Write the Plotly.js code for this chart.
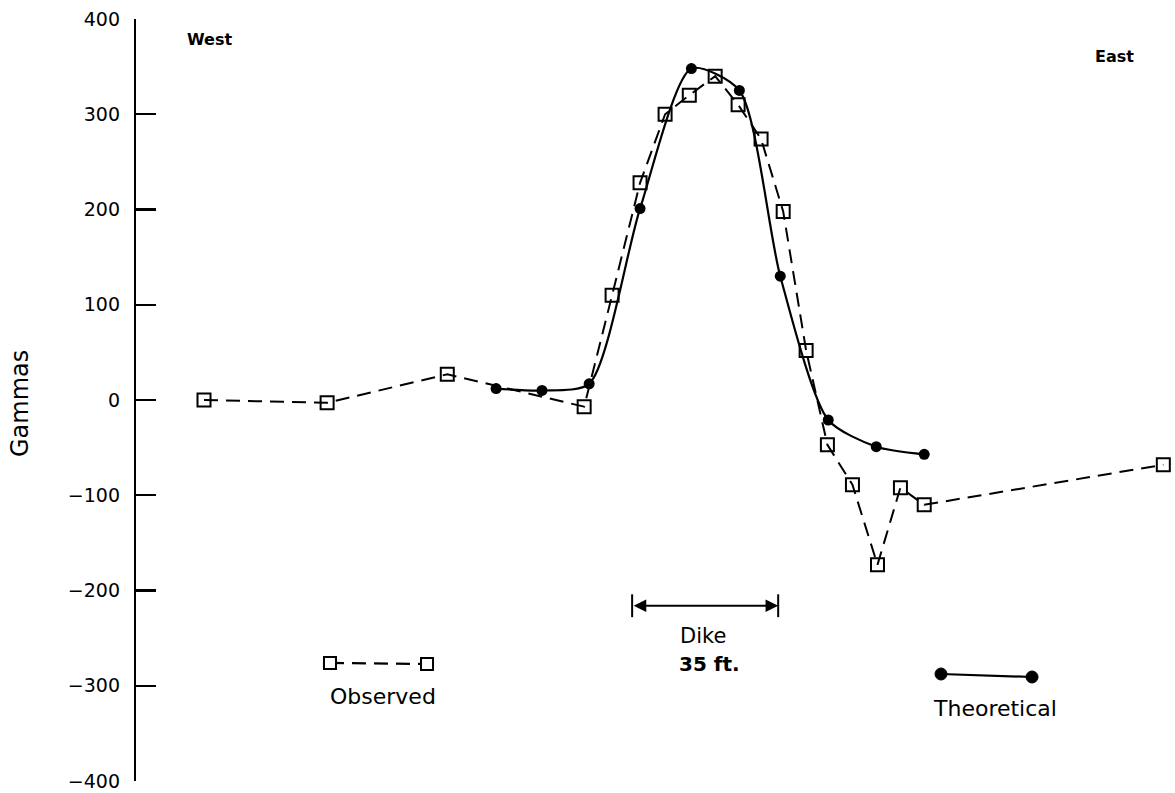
<!DOCTYPE html>
<html>
<head>
<meta charset="utf-8">
<script src="https://cdn.plot.ly/plotly-3.0.1.min.js"></script>
<style>
  html, body { margin: 0; padding: 0; background: #fff; }
  #chart { width: 1175px; height: 793px; }
</style>
</head>
<body>
<div id="chart"></div>
<script>
// Distance along profile (ft, from the axis) and anomaly (gammas)
const observedX = [16.3, 45.8, 74.6, 107.4, 114.1, 120.8, 126.8, 132.6, 138.8, 144.3, 149.8, 155.1, 160.6, 165.7, 171.7, 177.7, 183.2, 188.9, 246.2];
const observedY = [0, -3, 27, -7, 110, 228, 300, 320, 340, 310, 274, 198, 52, -47, -89, -173, -92, -110, -68];

const theoreticalX = [86.3, 97.3, 108.6, 120.8, 133.1, 144.6, 154.4, 165.9, 177.4, 188.9];
const theoreticalY = [12, 10, 17, 201, 348, 325, 130, -21, -49, -57];

const dikeStart = 118.9;
const dikeEnd = 153.9;
const dikeLevel = -216;

const yTicks = [400, 300, 200, 100, 0, -100, -200, -300, -400];

const FONT = "DejaVu Sans, Arial, sans-serif";

const traces = [
  {
    x: theoreticalX, y: theoreticalY, type: 'scatter', mode: 'lines+markers',
    name: 'Theoretical',
    line: { color: '#000', width: 2.2, shape: 'spline', smoothing: 0.7 },
    marker: { symbol: 'circle', size: 11, color: '#000' },
    hoverinfo: 'skip'
  },
  {
    x: observedX, y: observedY, type: 'scatter', mode: 'lines+markers',
    name: 'Observed',
    line: { color: '#000', width: 2, dash: '14px,8px' },
    marker: { symbol: 'square-open', size: 13, color: '#000', line: { width: 2, color: '#000' } },
    hoverinfo: 'skip'
  }
];

function pxSquare(xp, yp, s) {
  return { type: 'rect', xref: 'paper', yref: 'paper', xsizemode: 'pixel', ysizemode: 'pixel',
    xanchor: xp, yanchor: yp, x0: -s/2, x1: s/2, y0: -s/2, y1: s/2,
    line: { color: '#000', width: 2 }, fillcolor: '#fff' };
}
function pxDot(xp, yp, s) {
  return { type: 'circle', xref: 'paper', yref: 'paper', xsizemode: 'pixel', ysizemode: 'pixel',
    xanchor: xp, yanchor: yp, x0: -s/2, x1: s/2, y0: -s/2, y1: s/2,
    line: { color: '#000', width: 1 }, fillcolor: '#000' };
}

const shapes = [
  // Observed legend sample
  { type: 'line', xref: 'paper', yref: 'paper', x0: 0.1867, x1: 0.2801, y0: 0.1549, y1: 0.1535,
    line: { color: '#000', width: 2.2, dash: '14px,8px' } },
  pxSquare(0.1867, 0.1549, 12),
  pxSquare(0.2801, 0.1535, 12),
  // Theoretical legend sample
  { type: 'line', xref: 'paper', yref: 'paper', x0: 0.7748, x1: 0.8624, y0: 0.1404, y1: 0.1365,
    line: { color: '#000', width: 2.2 } },
  pxDot(0.7748, 0.1404, 12),
  pxDot(0.8624, 0.1365, 12),
  // Dike width bars
  { type: 'line', xref: 'x', yref: 'y', x0: dikeStart, x1: dikeStart, y0: dikeLevel - 12, y1: dikeLevel + 12,
    line: { color: '#000', width: 2 } },
  { type: 'line', xref: 'x', yref: 'y', x0: dikeEnd, x1: dikeEnd, y0: dikeLevel - 12, y1: dikeLevel + 12,
    line: { color: '#000', width: 2 } }
];

function label(x, y, text, size, extra) {
  return Object.assign({ xref: 'paper', yref: 'paper', x: x, y: y, text: text, showarrow: false,
    xanchor: 'center', yanchor: 'middle', font: { family: FONT, size: size, color: '#000' } }, extra || {});
}

const annotations = [
  { xref: 'x', yref: 'y', axref: 'x', ayref: 'y', x: dikeEnd, y: dikeLevel, ax: dikeStart, ay: dikeLevel,
    text: '', showarrow: true, arrowhead: 2, startarrowhead: 2, arrowside: 'end+start',
    arrowwidth: 1.8, arrowsize: 1.4, startarrowsize: 1.4, arrowcolor: '#000' },
  label(0.546, 0.190, 'Dike', 21),
  label(0.552, 0.1535, '<b>35 ft.</b>', 20),
  label(0.2377, 0.1115, 'Observed', 22),
  label(0.8268, 0.0958, 'Theoretical', 22),
  label(0.047, 0.973, '<b>West</b>', 16, { xanchor: 'left' }),
  label(0.942, 0.951, '<b>East</b>', 16),
  label(-0.1117, 0.496, 'Gammas', 24, { textangle: -90 })
];

const layout = {
  width: 1175, height: 793,
  margin: { l: 136, r: 0, t: 19, b: 12, pad: 0 },
  paper_bgcolor: '#fff', plot_bgcolor: '#fff',
  showlegend: false,
  font: { family: FONT, color: '#000' },
  xaxis: { range: [0, 249], visible: false, showgrid: false, zeroline: false },
  yaxis: {
    range: [-400, 400], tickvals: yTicks, showgrid: false, zeroline: false,
    showline: true, linecolor: '#000', linewidth: 2.2,
    ticks: 'inside', ticklen: 20, tickwidth: 2.2, tickcolor: '#000',
    ticklabelstandoff: 10,
    tickfont: { family: FONT, size: 19, color: '#000' }
  },
  shapes: shapes,
  annotations: annotations
};

Plotly.newPlot('chart', traces, layout, { staticPlot: true, displayModeBar: false });
</script>
</body>
</html>
